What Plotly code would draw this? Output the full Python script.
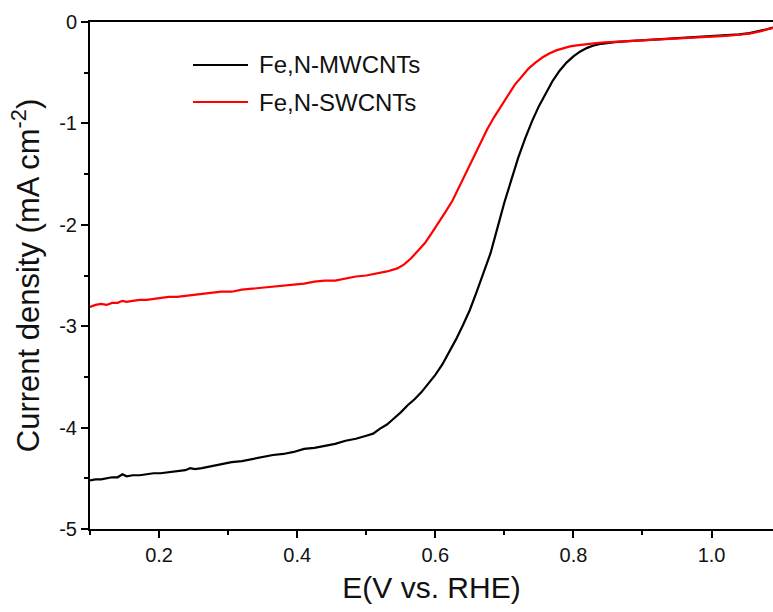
import plotly.graph_objects as go

# Fe,N-MWCNTs (black)
mw_x = [0.100, 0.108, 0.116, 0.124, 0.132, 0.140, 0.147, 0.153, 0.162, 0.172, 0.182, 0.192,
        0.202, 0.214, 0.226, 0.238, 0.245, 0.252, 0.262, 0.275, 0.290, 0.305, 0.320, 0.335,
        0.350, 0.365, 0.380, 0.395, 0.410, 0.425, 0.440, 0.455, 0.470, 0.485, 0.500, 0.510,
        0.520, 0.530, 0.540, 0.550, 0.560, 0.570, 0.580, 0.590, 0.600, 0.610, 0.620, 0.630,
        0.640, 0.650, 0.660, 0.670, 0.680, 0.690, 0.700, 0.710, 0.720, 0.730, 0.740, 0.750,
        0.760, 0.770, 0.780, 0.790, 0.800, 0.810, 0.820, 0.830, 0.840, 0.850, 0.860, 0.880,
        0.900, 0.925, 0.950, 0.975, 1.000, 1.020, 1.040, 1.055, 1.070, 1.080, 1.089]
mw_y = [-4.52, -4.51, -4.51, -4.50, -4.49, -4.49, -4.46, -4.48, -4.47, -4.47, -4.46, -4.45,
        -4.45, -4.44, -4.43, -4.42, -4.40, -4.41, -4.40, -4.38, -4.36, -4.34, -4.33, -4.31,
        -4.29, -4.27, -4.26, -4.24, -4.21, -4.20, -4.18, -4.16, -4.13, -4.11, -4.08, -4.06,
        -4.01, -3.97, -3.91, -3.85, -3.78, -3.72, -3.65, -3.57, -3.48, -3.38, -3.26, -3.13,
        -2.99, -2.84, -2.66, -2.48, -2.28, -2.03, -1.78, -1.56, -1.34, -1.15, -0.98, -0.83,
        -0.70, -0.58, -0.48, -0.40, -0.34, -0.29, -0.255, -0.23, -0.215, -0.205, -0.198, -0.188,
        -0.180, -0.170, -0.160, -0.150, -0.142, -0.133, -0.122, -0.110, -0.090, -0.072, -0.055]

# Fe,N-SWCNTs (red)
sw_x = [0.100, 0.108, 0.116, 0.124, 0.132, 0.140, 0.147, 0.153, 0.162, 0.172, 0.182, 0.192,
        0.202, 0.214, 0.226, 0.238, 0.250, 0.262, 0.275, 0.290, 0.305, 0.320, 0.335, 0.350,
        0.365, 0.380, 0.395, 0.410, 0.425, 0.440, 0.455, 0.470, 0.485, 0.500, 0.515, 0.530,
        0.545, 0.555, 0.565, 0.575, 0.585, 0.595, 0.605, 0.615, 0.625, 0.635, 0.645, 0.655,
        0.665, 0.675, 0.685, 0.695, 0.705, 0.715, 0.725, 0.735, 0.745, 0.755, 0.765, 0.775,
        0.785, 0.795, 0.805, 0.815, 0.830, 0.845, 0.860, 0.880, 0.900, 0.925, 0.950, 0.975,
        1.000, 1.020, 1.040, 1.055, 1.070, 1.080, 1.089]
sw_y = [-2.81, -2.79, -2.78, -2.79, -2.77, -2.77, -2.75, -2.76, -2.75, -2.74, -2.74, -2.73,
        -2.72, -2.71, -2.71, -2.70, -2.69, -2.68, -2.67, -2.66, -2.66, -2.64, -2.63, -2.62,
        -2.61, -2.60, -2.59, -2.58, -2.56, -2.55, -2.55, -2.53, -2.51, -2.50, -2.48, -2.46,
        -2.43, -2.39, -2.33, -2.26, -2.18, -2.08, -1.98, -1.87, -1.76, -1.62, -1.47, -1.33,
        -1.19, -1.06, -0.94, -0.83, -0.72, -0.62, -0.54, -0.46, -0.40, -0.35, -0.31, -0.28,
        -0.26, -0.24, -0.23, -0.22, -0.21, -0.20, -0.195, -0.188, -0.182, -0.172, -0.163, -0.154,
        -0.146, -0.137, -0.126, -0.114, -0.094, -0.076, -0.058]

series_names = ["Fe,N-MWCNTs", "Fe,N-SWCNTs"]
series_colors = ["black", "#ff0000"]
x_ticks = [0.2, 0.4, 0.6, 0.8, 1.0]
x_ticklabels = ["0.2", "0.4", "0.6", "0.8", "1.0"]
y_ticks = [0, -1, -2, -3, -4, -5]
y_ticklabels = ["0", "-1", "-2", "-3", "-4", "-5"]

FONT = "Liberation Sans, Arial, sans-serif"
TXT = "#111111"

fig = go.Figure()
fig.add_trace(go.Scatter(x=mw_x, y=mw_y, mode="lines", name=series_names[0],
                         line=dict(color=series_colors[0], width=2.2), showlegend=False))
fig.add_trace(go.Scatter(x=sw_x, y=sw_y, mode="lines", name=series_names[1],
                         line=dict(color=series_colors[1], width=2.2), showlegend=False))

# legend drawn in paper coordinates (line sample + label)
legend_y = [0.9152, 0.8422]
shapes = []
annotations = []
for name, col, ly in zip(series_names, series_colors, legend_y):
    shapes.append(dict(type="line", xref="paper", yref="paper",
                       x0=0.1508, x1=0.2313, y0=ly, y1=ly,
                       line=dict(color=col, width=2.2)))
    annotations.append(dict(text=name, xref="paper", yref="paper", x=0.2445, y=ly,
                            xanchor="left", yanchor="middle", showarrow=False,
                            font=dict(size=24, family=FONT, color=TXT)))

fig.update_layout(
    width=773, height=612,
    margin=dict(l=90, r=0, t=22, b=83),
    paper_bgcolor="white", plot_bgcolor="white",
    font=dict(family=FONT, color=TXT),
    showlegend=False,
    shapes=shapes,
    annotations=annotations,
    xaxis=dict(
        range=[0.1, 1.089], showgrid=False, zeroline=False, automargin=False,
        showline=True, linecolor="black", linewidth=2, mirror=True,
        ticks="outside", ticklen=7, tickwidth=2, tickcolor="black",
        tickvals=x_ticks, ticktext=x_ticklabels,
        tickfont=dict(size=20, family=FONT, color=TXT),
        minor=dict(ticks="outside", ticklen=4, tickwidth=2, tickcolor="black",
                   tickvals=[0.1, 0.3, 0.5, 0.7, 0.9]),
        title=dict(text="E(V vs. RHE)", font=dict(size=30, family=FONT, color=TXT),
                   standoff=12),
    ),
    yaxis=dict(
        range=[-5, 0], showgrid=False, zeroline=False, automargin=False,
        showline=True, linecolor="black", linewidth=2, mirror=False,
        ticks="outside", ticklen=7, tickwidth=2, tickcolor="black",
        tickvals=y_ticks, ticktext=y_ticklabels,
        tickfont=dict(size=20, family=FONT, color=TXT),
        minor=dict(ticks="outside", ticklen=4, tickwidth=2, tickcolor="black",
                   tickvals=[-0.5, -1.5, -2.5, -3.5, -4.5]),
        title=dict(text="Current density (mA cm<sup>-2</sup>)",
                   font=dict(size=31, family=FONT, color=TXT), standoff=10),
    ),
)

# remove the page's default body margin so the figure fills the window exactly
fig.write_html("out.html",
               config={"displayModeBar": False},
               post_script="document.body.style.margin='0';document.body.style.overflow='hidden';")
